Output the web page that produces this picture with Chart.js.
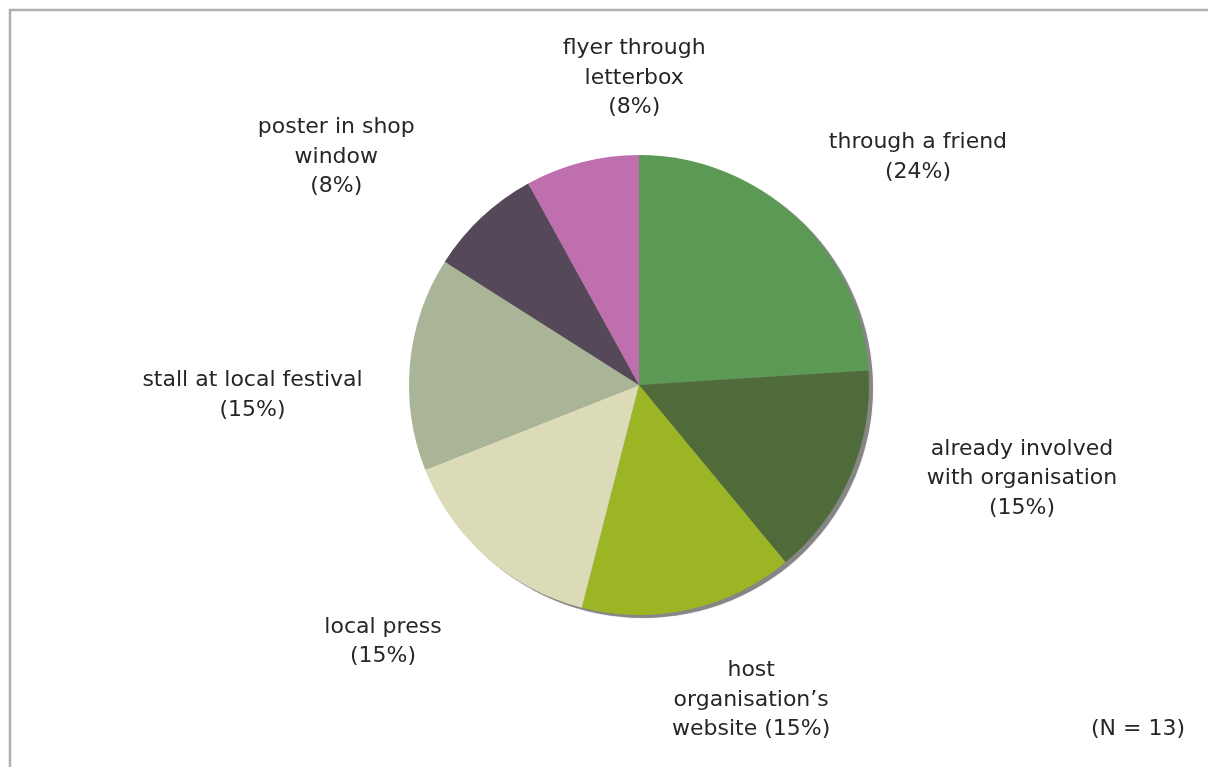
<!DOCTYPE html>
<html>
<head>
<meta charset="utf-8">
<script src="https://cdn.jsdelivr.net/npm/chart.js@4"></script>
<style>
  html, body { margin: 0; padding: 0; background: #fff; }
  #wrap { width: 1208px; height: 767px; }
</style>
</head>
<body>
<div id="wrap"><canvas id="myChart" width="1208" height="767"></canvas></div>
<script>
let categories = [
    ["through a friend"],
    ["already involved", "with organisation"],
    ["host", "organisation\u2019s", "website"],
    ["local press"],
    ["stall at local festival"],
    ["poster in shop", "window"],
    ["flyer through", "letterbox"]
];
let shares = [24, 15, 15, 15, 15, 8, 8];
let sliceColors = ["#5b9955", "#4f6b3a", "#9bb525", "#dbdbb8", "#aab597", "#554858", "#bf6fae"];
let sampleNote = "(N = 13)";

// label nudges: angle shift (deg, clockwise) from slice middle, distance in radii
let labelLayout = [
    [7.6, 1.565], [-9.7, 1.714], [-7.0, 1.454], [3.5, 1.577],
    [-6.9, 1.681], [-9.8, 1.648], [13.5, 1.335]
];

const FONT = "22px 'Century Gothic', 'DejaVu Sans', sans-serif";

let pieExtras = {
    id: "pieExtras",
    beforeDatasetsDraw(chart) {
        let ctx = chart.ctx;
        let arc = chart.getDatasetMeta(0).data[0];
        // frame
        ctx.save();
        ctx.strokeStyle = "#b0b0b0";
        ctx.lineWidth = 2.5;
        ctx.strokeRect(10, 10, chart.width + 10, chart.height + 10);
        // drop shadow under the pie
        ctx.fillStyle = "#868686";
        ctx.shadowColor = "rgba(0,0,0,0.2)";
        ctx.shadowBlur = 1.5;
        ctx.beginPath();
        ctx.arc(arc.x + 4, arc.y + 3, arc.outerRadius, 0, Math.PI * 2);
        ctx.fill();
        ctx.restore();
    },
    afterDraw(chart) {
        let ctx = chart.ctx;
        ctx.save();
        ctx.font = FONT;
        ctx.fillStyle = "#262626";
        ctx.textAlign = "center";
        ctx.textBaseline = "middle";
        chart.getDatasetMeta(0).data.forEach((arc, i) => {
            let mid = (arc.startAngle + arc.endAngle) / 2 + labelLayout[i][0] * Math.PI / 180;
            let d = arc.outerRadius * labelLayout[i][1];
            let x = arc.x + Math.cos(mid) * d;
            let y = arc.y + Math.sin(mid) * d;
            let lines = categories[i].slice();
            let pct = "(" + shares[i] + "%)";
            if (i === 2) lines[lines.length - 1] += " " + pct; else lines.push(pct);
            let lh = 29.5;
            let top = y - (lines.length - 1) * lh / 2;
            lines.forEach((t, j) => ctx.fillText(t, x, top + j * lh));
        });
        ctx.fillText(sampleNote, 1138, 729);
        ctx.restore();
    }
};

let myChart = document.getElementById("myChart").getContext("2d");

let pieChart = new Chart(myChart, {
    type: "pie",
    data: {
        labels: categories.map(c => c.join(" ")),
        datasets: [
            {
                data: shares,
                backgroundColor: sliceColors,
                borderWidth: 0
            }
        ]
    },
    options: {
        responsive: false,
        animation: false,
        layout: { padding: { top: 155, bottom: 152, left: 409, right: 339 } },
        plugins: {
            legend: { display: false },
            tooltip: { enabled: false }
        }
    },
    plugins: [pieExtras]
});
</script>
</body>
</html>
